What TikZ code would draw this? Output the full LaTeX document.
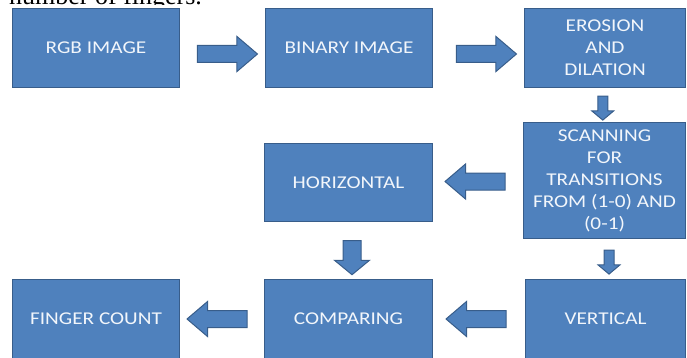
\documentclass[tikz,border=0pt]{standalone}
\usepackage{fontspec}
\setmainfont{Carlito}[FakeStretch=1.18]
\newfontfamily\serifdoc{Liberation Serif}
\usetikzlibrary{shapes.arrows}
\usetikzlibrary{calc}

\definecolor{boxfill}{HTML}{4F81BD}
\definecolor{boxline}{HTML}{385D8A}
\definecolor{boxtext}{HTML}{F2F6FB}

\tikzset{
  stage/.style={rectangle, draw=boxline, line width=1.2pt, fill=boxfill,
    text=boxtext, align=center, inner sep=0pt,
    font=\fontsize{18}{22}\selectfont},
  bigarrow/.style={single arrow, draw=boxline, line width=1pt, fill=boxfill,
    inner xsep=0pt, inner ysep=8pt, minimum height=60pt,
    single arrow head extend=9pt, single arrow tip angle=81},
  midarrow/.style={single arrow, draw=boxline, line width=1pt, fill=boxfill,
    inner xsep=0pt, inner ysep=8.5pt, minimum height=34pt,
    single arrow head extend=8.5pt, single arrow tip angle=101},
  smallarrow/.style={single arrow, draw=boxline, line width=1pt, fill=boxfill,
    inner xsep=0pt, inner ysep=4.5pt, minimum height=24pt,
    single arrow head extend=6pt, single arrow tip angle=100}
}

\begin{document}
\begin{tikzpicture}[x=1pt, y=-1pt]
\useasboundingbox (0,0) rectangle (687,358);
\clip (0,0) rectangle (687,358);

  % text of the page, cut off above the chart
  \begin{scope}
  \clip (0,0) rectangle (687,5);
  \node[anchor=base west, inner sep=0pt, font=\serifdoc\fontsize{26}{30}\selectfont]
       (caption) at (9,4.5) {number of fingers.};
  \end{scope}

  % first row
  \node[stage, minimum width=167pt, minimum height=79pt] (rgb) at (96,48) {RGB IMAGE};
  \node[stage, minimum width=167pt, minimum height=79pt] (binary) at (349,48) {BINARY IMAGE};
  \node[stage, minimum width=161pt, minimum height=79pt] (erosion) at (605,48)
       {EROSION\\AND\\DILATION};

  \node[bigarrow] (rgb2bin) at ($(rgb.east)!0.5!(binary.west)+(0,6)$) {};
  \node[bigarrow] (bin2ero) at ($(binary.east)!0.5!(erosion.west)+(3,6)$) {};

  % second row
  \node[stage, minimum width=162pt, minimum height=116pt] (scanning) at (604.5,180.5)
       {SCANNING\\FOR\\TRANSITIONS\\FROM (1-0) AND\\(0-1)};
  \node[stage, minimum width=168pt, minimum height=78pt] (horizontal) at (348.5,182.5)
       {HORIZONTAL};

  \node[smallarrow, rotate=-90] (ero2scan) at ($(erosion.south)!0.5!(scanning.north)+(-2,1)$) {};
  \node[bigarrow, rotate=180] (scan2hor) at ($(scanning.west)!0.5!(horizontal.east)+(2,0)$) {};

  % third row
  \node[stage, minimum width=160pt, minimum height=79pt] (vertical) at (605.5,319) {VERTICAL};
  \node[stage, minimum width=168pt, minimum height=79pt] (comparing) at (348.5,319) {COMPARING};
  \node[stage, minimum width=167pt, minimum height=79pt] (finger) at (96,319) {FINGER COUNT};

  \node[smallarrow, rotate=-90] (scan2ver) at ($(scanning.south)!0.5!(vertical.north)+(4,1)$) {};
  \node[midarrow, rotate=-90] (hor2comp) at ($(horizontal.south)!0.5!(comparing.north)+(3.5,3.5)$) {};
  \node[bigarrow, rotate=180] (ver2comp) at ($(vertical.west)!0.5!(comparing.east)+(2,0)$) {};
  \node[bigarrow, rotate=180] (comp2fin) at ($(comparing.west)!0.5!(finger.east)$) {};

\end{tikzpicture}
\end{document}
